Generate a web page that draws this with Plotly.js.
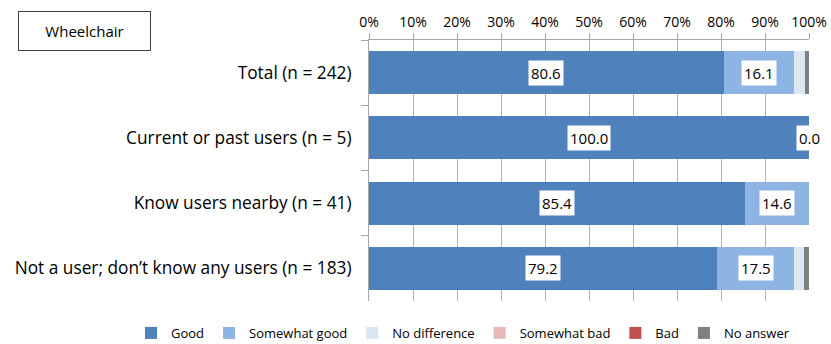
<!DOCTYPE html>
<html>
<head>
<meta charset="utf-8">
<script src="https://cdn.plot.ly/plotly-3.0.1.min.js"></script>
<style>html,body{margin:0;padding:0;background:#fff;}#chart{width:831px;height:344px;}</style>
</head>
<body>
<div id="chart"></div>
<script>
var categories = ["Total (n = 242)", "Current or past users (n = 5)", "Know users nearby (n = 41)", "Not a user; don\u2019t know any users (n = 183)"];
var seriesNames = ["Good", "Somewhat good", "No difference", "Somewhat bad", "Bad", "No answer"];
var good = [80.6, 100.0, 85.4, 79.2];
var somewhatGood = [16.1, 0.0, 14.6, 17.5];
var noDifference = [2.5, 0.0, 0.0, 2.2];
var somewhatBad = [0, 0, 0, 0];
var bad = [0, 0, 0, 0];
var noAnswer = [0.8, 0.0, 0.0, 1.1];
var xTickVals = [0, 10, 20, 30, 40, 50, 60, 70, 80, 90, 100];
var xTickText = ["0%", "10%", "20%", "30%", "40%", "50%", "60%", "70%", "80%", "90%", "100%"];
var panelLabel = "Wheelchair";

var colors = ["#4f81bd", "#8db4e2", "#dce6f2", "#e6b9b8", "#c0504d", "#7f7f7f"];
var series = [good, somewhatGood, noDifference, somewhatBad, bad, noAnswer];
var FONT = "'Open Sans', sans-serif";

var traces = series.map(function (vals, i) {
  return {
    type: "bar", orientation: "h", name: seriesNames[i],
    x: vals, y: categories,
    marker: {color: colors[i], line: {width: 0}},
    width: 0.66, hoverinfo: "x+name"
  };
});

var annotations = [];
categories.forEach(function (c, j) {
  var cum = 0;
  [good, somewhatGood].forEach(function (arr, k) {
    var v = arr[j];
    annotations.push({
      x: cum + v / 2, y: c, xref: "x", yref: "y",
      text: v.toFixed(1), showarrow: false,
      bgcolor: "#ffffff", borderpad: 2,
      font: {family: FONT, size: 15, color: "#000"}
    });
    cum += v;
  });
});
annotations.push({
  xref: "paper", yref: "paper", x: (84.5 - 369) / 440, y: (301 - 31) / 261,
  xanchor: "center", yanchor: "middle",
  text: panelLabel, showarrow: false,
  width: 125, height: 32, borderpad: 3,
  bordercolor: "#404040", borderwidth: 1,
  font: {family: FONT, size: 15, color: "#000"}
});

var layout = {
  width: 831, height: 344,
  margin: {l: 369, r: 22, t: 40, b: 43, autoexpand: false},
  barmode: "stack", bargap: 0.34,
  paper_bgcolor: "#fff", plot_bgcolor: "#fff",
  font: {family: FONT, color: "#000"},
  xaxis: {
    side: "top", range: [0, 100], tickvals: xTickVals, ticktext: xTickText,
    showgrid: true, gridcolor: "#b3b3b3", gridwidth: 1,
    showline: true, linecolor: "#a6a6a6", linewidth: 1,
    ticks: "outside", ticklen: 6, tickcolor: "#a6a6a6",
    tickfont: {family: FONT, size: 14, color: "#000"}, zeroline: false, fixedrange: true
  },
  yaxis: {
    type: "category", autorange: "reversed",
    showline: true, linecolor: "#a6a6a6", linewidth: 1,
    ticks: "outside", tickson: "boundaries", ticklen: 7, tickcolor: "#a6a6a6",
    ticklabelstandoff: 13,
    tickfont: {family: FONT, size: 17.3, color: "#000"}, fixedrange: true
  },
  legend: {
    orientation: "h", xref: "paper", yref: "paper",
    x: (131 - 369) / 440, xanchor: "left", y: -0.065, yanchor: "top",
    font: {family: FONT, size: 13, color: "#000"},
    itemwidth: 30, traceorder: "normal"
  },
  showlegend: true,
  annotations: annotations
};

Plotly.newPlot("chart", traces, layout, {displayModeBar: false, staticPlot: true});
</script>
</body>
</html>
